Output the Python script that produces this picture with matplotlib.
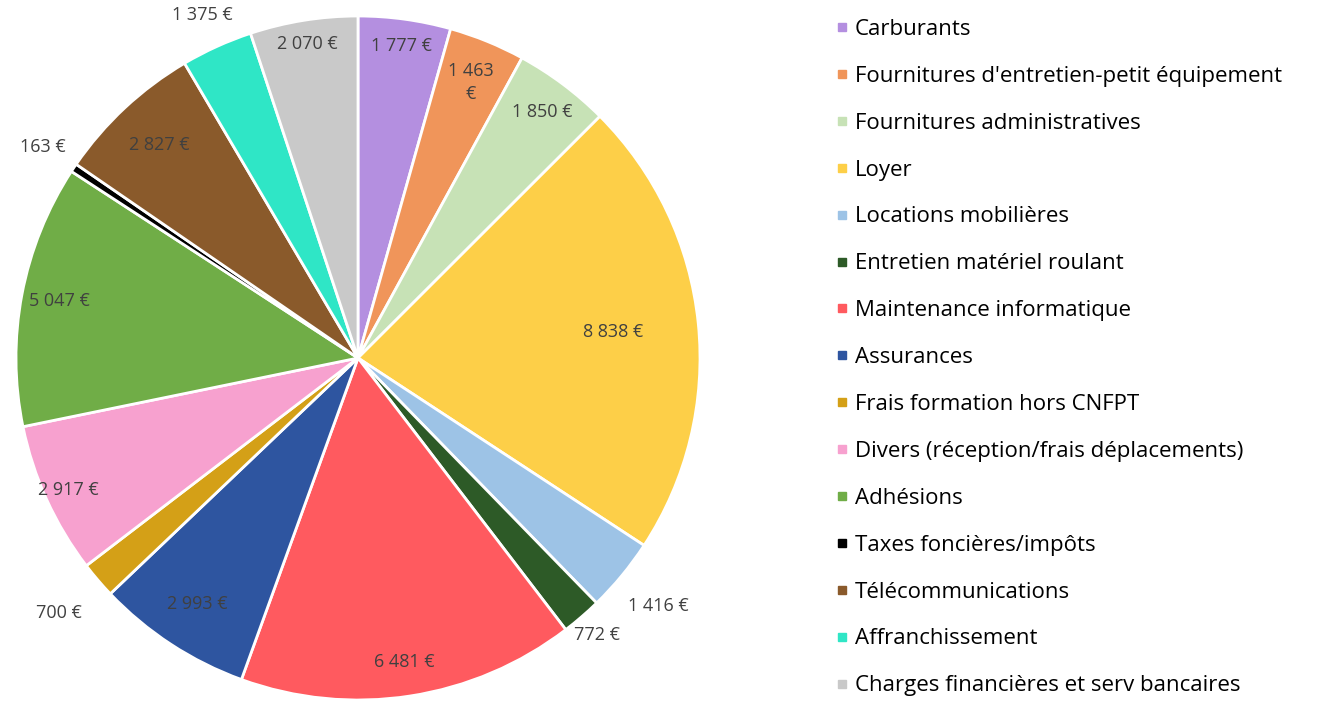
import matplotlib.pyplot as plt
from matplotlib.lines import Line2D
import numpy as np

plt.rcParams['font.family'] = ['Open Sans', 'DejaVu Sans']

categories = [
    "Carburants",
    "Fournitures d'entretien-petit équipement",
    "Fournitures administratives",
    "Loyer",
    "Locations mobilières",
    "Entretien matériel roulant",
    "Maintenance informatique",
    "Assurances",
    "Frais formation hors CNFPT",
    "Divers (réception/frais déplacements)",
    "Adhésions",
    "Taxes foncières/impôts",
    "Télécommunications",
    "Affranchissement",
    "Charges financières et serv bancaires",
]
values = [1777, 1463, 1850, 8838, 1416, 772, 6481, 2993, 700, 2917,
          5047, 163, 2827, 1375, 2070]
value_labels = ["1 777 €", "1 463\n€", "1 850 €", "8 838 €", "1 416 €",
                "772 €", "6 481 €", "2 993 €", "700 €", "2 917 €",
                "5 047 €", "163 €", "2 827 €", "1 375 €", "2 070 €"]

colors = ['#b48fe0', '#f0955a', '#c7e2b6', '#fdcf48', '#9dc3e6',
          '#2d5a27', '#ff5a5f', '#2e55a0', '#d4a017', '#f7a1cf',
          '#70ad47', '#000000', '#8a5a2b', '#2fe6c6', '#c9c9c9']

# radial position of each value label (fraction of radius)
label_r = [0.92, 0.87, 0.90, 0.75, 1.14, 1.07, 0.90, 0.86, 1.15, 0.93,
           0.89, 1.11, 0.85, 1.10, 0.93]

fig = plt.figure(figsize=(13.2, 7.23), dpi=100)
ax = fig.add_axes([16 / 1320, 23 / 723, 684 / 1320, 684 / 723])

wedges, _ = ax.pie(values, colors=colors, startangle=90, counterclock=False,
                   radius=1.0,
                   wedgeprops=dict(edgecolor='white', linewidth=2))
ax.set_xlim(-1, 1)
ax.set_ylim(-1, 1)
ax.set_aspect('equal')
ax.axis('off')

for w, lab, r in zip(wedges, value_labels, label_r):
    ang = np.deg2rad((w.theta1 + w.theta2) / 2)
    ax.text(r * np.cos(ang), r * np.sin(ang), lab, ha='center', va='center',
            fontsize=13, color='#404040', linespacing=1.4)

handles = [Line2D([0], [0], marker='s', linestyle='none', markersize=6,
                  markerfacecolor=c, markeredgecolor=c) for c in colors]
fig.legend(handles, categories, loc='upper left',
           bbox_to_anchor=(826 / 1320, 1 - 10 / 723), frameon=False,
           fontsize=16, handlelength=0.6, handletextpad=0.3,
           labelspacing=1.165, borderaxespad=0)

fig.savefig('out.png', dpi=100, facecolor='white')
